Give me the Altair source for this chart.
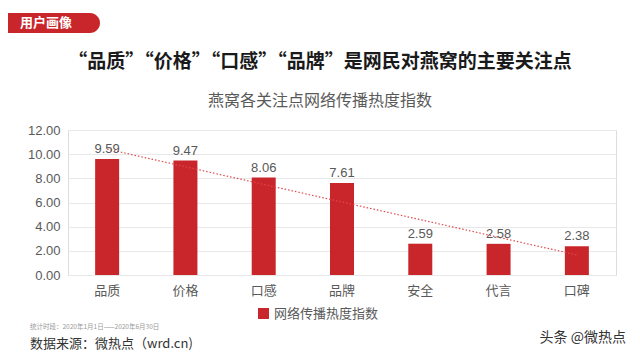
import altair as alt
import pandas as pd

categories = ["品质", "价格", "口感", "品牌", "安全", "代言", "口碑"]
values = [9.59, 9.47, 8.06, 7.61, 2.59, 2.58, 2.38]
y_ticks = [0, 2, 4, 6, 8, 10, 12]
series_name = "网络传播热度指数"
title_text = "“品质”“价格”“口感”“品牌”是网民对燕窝的主要关注点"
subtitle_text = "燕窝各关注点网络传播热度指数"
tag_text = "用户画像"
period_text = "统计时段：2020年1月1日——2020年6月30日"
source_text = "数据来源：微热点（wrd.cn)"
brand_text = "头条 @微热点"

FONT = "Noto Sans CJK SC"
RED = "#c9262b"
GRAY = "#595959"

df = pd.DataFrame({"cat": categories, "val": values, "idx": list(range(len(categories))),
                   "series": [series_name] * len(categories)})

x = alt.X("cat:N", sort=categories, title=None,
          axis=alt.Axis(labelAngle=0, labelFontSize=13, labelColor=GRAY, labelFont=FONT,
                        ticks=False, domain=False, labelPadding=9))
y = alt.Y("val:Q", title=None, scale=alt.Scale(domain=[0, 12]),
          axis=alt.Axis(values=y_ticks, format=".2f", labelFontSize=13, labelOverlap=False,
                        tickCount=7, labelColor=GRAY, labelFont="Liberation Sans", ticks=False,
                        domain=False, gridColor="#e8e8e8", labelPadding=8))

base = alt.Chart(df)
bars = base.mark_bar(size=24).encode(
    x=x, y=y,
    color=alt.Color("series:N", scale=alt.Scale(range=[RED]), title=None,
                    legend=alt.Legend(orient="none", legendX=189, legendY=177, symbolType="square",
                                      symbolSize=120, labelFontSize=13, labelColor=GRAY,
                                      labelFont=FONT, symbolStrokeWidth=0)))
labels = base.mark_text(dy=-10, fontSize=13, color=GRAY, font="Liberation Sans").encode(
    x=x, y=y, text=alt.Text("val:Q", format=".2f"))

cat_expr = "[" + ",".join("'%s'" % c for c in categories) + "][datum.idx]"
trend = base.transform_regression("idx", "val", method="linear").transform_calculate(
    cat=cat_expr
).mark_line(color="#e0484d", strokeDash=[1.5, 2], strokeWidth=1.2).encode(x=x, y=y)

one = alt.Data(values=[{"a": 1}])

def txt(text, xv, yv, size, color, weight="normal", align="left", font=FONT):
    return alt.Chart(one).mark_text(text=text, fontSize=size, color=color, fontWeight=weight,
                                    align=align, baseline="middle", font=font).encode(
        x=alt.value(xv), y=alt.value(yv))

tag_rect = alt.Chart(one).mark_rect(color=RED, cornerRadius=10).encode(
    x=alt.value(-90), x2=alt.value(32), y=alt.value(-117), y2=alt.value(-97))

layers = [
    bars, trend, labels, tag_rect,
    txt(tag_text, -48, -107, 13, "white", "bold"),
    txt(title_text, 252, -68, 19, "#1a1a1a", "bold", "center"),
    txt(subtitle_text, 252, -29, 16, GRAY, "normal", "center"),
    txt(period_text, -38, 197, 6.5, "#999999"),
    txt(source_text, -38, 214, 13, "#333333"),
    txt(brand_text, 558, 208, 14, "#333333", "normal", "right"),
]

chart = alt.layer(*layers).properties(
    width=548, height=145,
    autosize=alt.AutoSizeParams(type="none"),
    padding={"left": 60, "top": 122, "right": 16, "bottom": 77},
).configure_view(stroke=None).configure(background="white")

chart.save("out.html", embed_options={"renderer": "svg", "actions": False})
